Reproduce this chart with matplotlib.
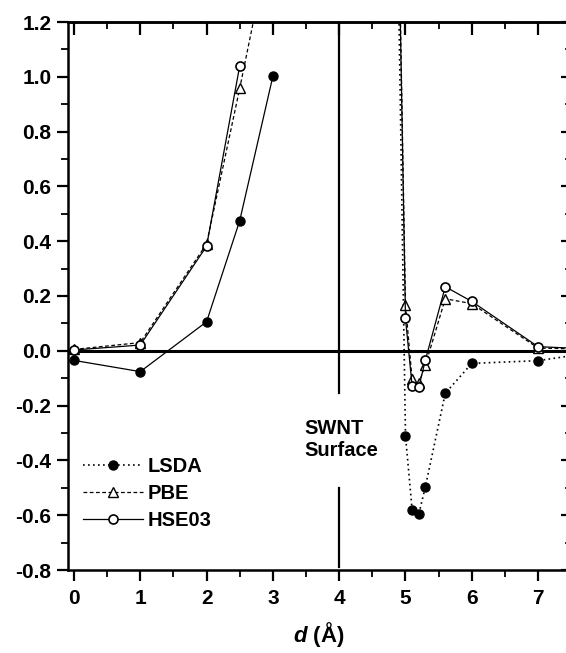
import numpy as np
import matplotlib
matplotlib.use("Agg")
import matplotlib.pyplot as plt
from matplotlib.lines import Line2D
from matplotlib.ticker import MultipleLocator, FormatStrFormatter

plt.rcParams['font.family'] = ['Liberation Sans', 'DejaVu Sans']
plt.rcParams['font.weight'] = 'bold'
plt.rcParams['mathtext.fontset'] = 'custom'
plt.rcParams['mathtext.it'] = 'Liberation Sans:italic:bold'
plt.rcParams['mathtext.rm'] = 'Liberation Sans:bold'

# data (d in Angstrom)
lsda_x_left = [0, 1, 2, 2.5, 3]
lsda_y_left = [-0.035, -0.076, 0.106, 0.475, 1.002]
lsda_x_right = [4.8, 5.0, 5.1, 5.2, 5.3, 5.6, 6.0, 7.0, 8.0]
lsda_y_right = [2.8, -0.31, -0.58, -0.597, -0.496, -0.155, -0.046, -0.036, 0.0]

pbe_x_left = [0, 1, 2, 2.5, 3]
pbe_y_left = [0.005, 0.03, 0.39, 0.958, 1.55]
pbe_x_right = [4.8, 5.0, 5.1, 5.2, 5.3, 5.6, 6.0, 7.0, 8.0]
pbe_y_right = [2.9, 0.167, -0.104, -0.118, -0.052, 0.19, 0.172, 0.01, 0.005]

hse_x_left = [0, 1, 2, 2.5]
hse_y_left = [0.003, 0.021, 0.382, 1.04]
hse_x_right = [4.8, 5.0, 5.1, 5.2, 5.3, 5.6, 6.0, 7.0, 8.0]
hse_y_right = [2.9, 0.118, -0.128, -0.133, -0.034, 0.234, 0.18, 0.015, 0.005]

labels = ['LSDA', 'PBE', 'HSE03']

fig = plt.figure(figsize=(5.66, 6.53), dpi=100)
ax = fig.add_axes([68 / 566, 1 - 570 / 653, 501 / 566, 548 / 653])

dot = (0, (1, 2))
dash = (0, (3, 2))
ms = 6.5
lw = 0.9

# zero line and SWNT surface marker
ax.axhline(0, color='black', lw=2.2, zorder=1)
ax.plot([4, 4], [1.2, -0.155], color='black', lw=1.6, zorder=1)
ax.plot([4, 4], [-0.5, -0.79], color='black', lw=1.6, zorder=1)
ax.text(3.48, -0.325, 'SWNT\nSurface', fontsize=14.5, fontweight='bold',
        ha='left', va='center', linespacing=1.2)

# LSDA
ax.plot(lsda_x_left, lsda_y_left, '-', color='black', lw=lw,
        marker='o', ms=ms, mfc='black', mec='black', zorder=3)
ax.plot(lsda_x_right, lsda_y_right, linestyle=dot, color='black', lw=1.2,
        marker='o', ms=ms, mfc='black', mec='black', zorder=3)

# PBE
ax.plot(pbe_x_left, pbe_y_left, linestyle=dash, color='black', lw=lw,
        marker='^', ms=ms, mfc='white', mec='black', zorder=4)
ax.plot(pbe_x_right, pbe_y_right, linestyle=dash, color='black', lw=lw,
        marker='^', ms=ms, mfc='white', mec='black', zorder=4)

# HSE03
ax.plot(hse_x_left, hse_y_left, '-', color='black', lw=lw,
        marker='o', ms=ms, mfc='white', mec='black', mew=1.2, zorder=5)
ax.plot(hse_x_right, hse_y_right, '-', color='black', lw=lw,
        marker='o', ms=ms, mfc='white', mec='black', mew=1.2, zorder=5)

ax.set_xlim(-0.09, 7.466)
ax.set_ylim(-0.8, 1.2)

ax.xaxis.set_major_locator(MultipleLocator(1))
ax.xaxis.set_minor_locator(MultipleLocator(0.5))
ax.yaxis.set_major_locator(MultipleLocator(0.2))
ax.yaxis.set_minor_locator(MultipleLocator(0.1))
ax.yaxis.set_major_formatter(FormatStrFormatter('%.1f'))

ax.tick_params(which='major', direction='out', length=8, width=1.6,
               labelsize=15, pad=4)
ax.tick_params(which='minor', direction='out', length=5, width=1.3)
ax.tick_params(axis='x', which='major', pad=6)
for lab in ax.get_xticklabels() + ax.get_yticklabels():
    lab.set_fontweight('bold')

for sp in ax.spines.values():
    sp.set_linewidth(1.8)

# mirrored ticks pointing inward on top and right
top = ax.secondary_xaxis('top')
top.xaxis.set_major_locator(MultipleLocator(1))
top.xaxis.set_minor_locator(MultipleLocator(0.5))
top.tick_params(which='major', direction='in', length=9, width=1.6, labeltop=False)
top.tick_params(which='minor', direction='in', length=5, width=1.3)
top.spines['top'].set_linewidth(1.8)

right = ax.secondary_yaxis('right')
right.yaxis.set_major_locator(MultipleLocator(0.2))
right.yaxis.set_minor_locator(MultipleLocator(0.1))
right.tick_params(which='major', direction='in', length=6, width=1.6, labelright=False)
right.tick_params(which='minor', direction='in', length=3, width=1.2)

ax.set_xlabel(r'$d$ (Å)', fontsize=16, fontweight='bold', labelpad=8)

handles = [
    Line2D([], [], linestyle=dot, color='black', lw=1.2, marker='o', ms=ms,
           mfc='black', mec='black'),
    Line2D([], [], linestyle=dash, color='black', lw=lw, marker='^', ms=ms,
           mfc='white', mec='black'),
    Line2D([], [], linestyle='-', color='black', lw=lw, marker='o', ms=ms,
           mfc='white', mec='black', mew=1.2),
]
ax.legend(handles, labels, loc='upper left', bbox_to_anchor=(0.03, 0.207),
          frameon=False, handlelength=3.0, handletextpad=0.2,
          labelspacing=0.42, borderaxespad=0, borderpad=0,
          prop={'weight': 'bold', 'size': 14.5})

fig.savefig('out.png', dpi=100)
